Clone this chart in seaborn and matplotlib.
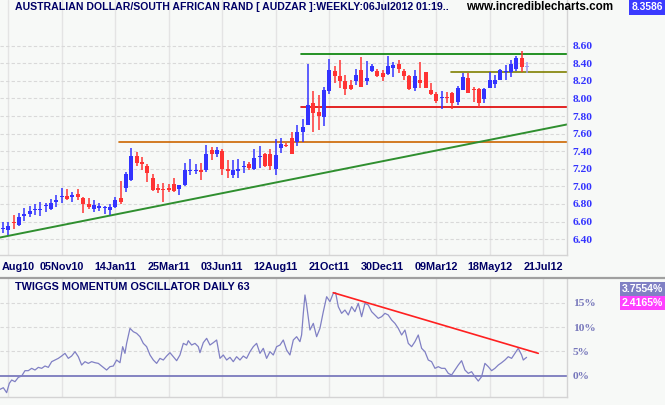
import matplotlib
matplotlib.use('Agg')
import matplotlib.pyplot as plt
from matplotlib.lines import Line2D
from matplotlib.transforms import ScaledTranslation
import seaborn as sns
import pandas as pd
import numpy as np

# weekly candles, week 0 = 27Aug10 (last one is the live week)
weeks = list(range(-1, 98))
opens = [6.52, 6.50, 6.595, 6.56, 6.665, 6.69, 6.735, 6.735, 6.775, 6.74,
         6.82, 6.875, 6.89, 6.885, 6.91, 6.865, 6.80, 6.745, 6.76, 6.76,
         6.73, 6.77, 6.87, 6.985, 7.07, 7.345, 7.28, 7.23, 7.095, 6.975,
         6.965, 6.975, 7.025, 6.97, 7.015, 7.18, 7.18, 7.19, 7.185, 7.41,
         7.37, 7.40, 7.20, 7.13, 7.17, 7.225, 7.255, 7.197, 7.33, 7.37,
         7.37, 7.197, 7.44, 7.465, 7.555, 7.50, 7.62, 7.70, 7.95, 7.85,
         7.785, 8.09, 8.31, 8.25, 8.20, 8.155, 8.20, 8.32, 8.20, 8.315,
         8.31, 8.29, 8.28, 8.35, 8.39, 8.31, 8.26, 8.115, 8.21, 8.30,
         8.10, 8.05, 8.005, 8.02, 8.065, 7.96, 8.10, 8.23, 8.10, 8.105,
         7.99, 8.115, 8.17, 8.215, 8.305, 8.30, 8.33, 8.455, 8.36]
highs = [6.60, 6.60, 6.67, 6.70, 6.75, 6.78, 6.80, 6.82, 6.815, 6.86,
         6.90, 6.98, 6.965, 6.935, 6.97, 6.875, 6.865, 6.845, 6.81, 6.78,
         6.80, 6.88, 7.06, 7.165, 7.44, 7.395, 7.33, 7.25, 7.135, 7.03,
         7.04, 7.03, 7.09, 7.015, 7.265, 7.31, 7.255, 7.26, 7.47, 7.45,
         7.45, 7.43, 7.30, 7.30, 7.31, 7.29, 7.275, 7.43, 7.46, 7.375,
         7.42, 7.54, 7.545, 7.49, 7.615, 7.70, 7.765, 8.39, 8.085, 8.04,
         8.135, 8.45, 8.37, 8.44, 8.27, 8.215, 8.34, 8.475, 8.425, 8.39,
         8.34, 8.32, 8.485, 8.415, 8.44, 8.33, 8.265, 8.32, 8.42, 8.30,
         8.18, 8.075, 8.085, 8.07, 8.075, 8.14, 8.29, 8.29, 8.135, 8.12,
         8.12, 8.30, 8.265, 8.33, 8.38, 8.44, 8.48, 8.54, 8.42]
lows = [6.465, 6.45, 6.52, 6.55, 6.61, 6.655, 6.67, 6.665, 6.71, 6.73,
        6.77, 6.815, 6.84, 6.82, 6.84, 6.70, 6.74, 6.71, 6.72, 6.69,
        6.67, 6.75, 6.795, 6.94, 7.065, 7.23, 7.19, 7.05, 6.95, 6.92,
        6.82, 6.94, 6.94, 6.90, 7.00, 7.13, 7.14, 7.07, 7.165, 7.30,
        7.33, 7.13, 7.09, 7.10, 7.10, 7.15, 7.19, 7.185, 7.21, 7.22,
        7.185, 7.13, 7.375, 7.445, 7.365, 7.46, 7.50, 7.70, 7.615, 7.64,
        7.685, 8.045, 8.18, 8.115, 8.04, 8.095, 8.15, 8.135, 8.15, 8.30,
        8.24, 8.20, 8.265, 8.245, 8.295, 8.215, 8.10, 8.09, 8.115, 8.115,
        8.04, 7.945, 7.885, 7.945, 7.885, 7.925, 8.095, 8.06, 7.965, 7.905,
        7.945, 8.115, 8.12, 8.21, 8.21, 8.245, 8.31, 8.305, 8.285]
closes = [6.525, 6.55, 6.58, 6.65, 6.69, 6.72, 6.745, 6.745, 6.785, 6.81,
          6.845, 6.885, 6.86, 6.895, 6.88, 6.80, 6.77, 6.79, 6.77, 6.765,
          6.77, 6.845, 6.82, 7.135, 7.34, 7.27, 7.25, 7.15, 6.96, 6.965,
          6.96, 6.965, 6.95, 7.015, 7.185, 7.19, 7.19, 7.165, 7.37, 7.37,
          7.41, 7.197, 7.18, 7.185, 7.20, 7.235, 7.205, 7.325, 7.345, 7.235,
          7.23, 7.355, 7.48, 7.455, 7.365, 7.615, 7.68, 7.925, 7.83, 7.80,
          8.095, 8.32, 8.26, 8.20, 8.11, 8.11, 8.265, 8.135, 8.23, 8.37,
          8.26, 8.245, 8.37, 8.38, 8.335, 8.26, 8.11, 8.255, 8.18, 8.12,
          8.05, 7.97, 8.015, 8.01, 7.945, 8.115, 8.24, 8.065, 8.095, 7.945,
          8.105, 8.21, 8.21, 8.32, 8.315, 8.39, 8.455, 8.36, 8.3586]

date_ticks = [0, 10, 20, 30, 40, 50, 60, 70, 80, 90, 100]
date_labels = ['Aug10', '05Nov10', '14Jan11', '25Mar11', '03Jun11', '12Aug11',
               '21Oct11', '30Dec11', '09Mar12', '18May12', '21Jul12']
price_ticks = [6.40, 6.60, 6.80, 7.00, 7.20, 7.40, 7.60, 7.80, 8.00, 8.20, 8.40, 8.60]
osc_ticks = [0, 5, 10, 15]

# drawn support / resistance levels: (start week, price)
level_top = (54.7, 8.50)
level_mid = (82.7, 8.30)
level_low = (54.7, 7.90)
level_old = (20.7, 7.50)
trend_start = (-1.55, 6.418)
trend_end = (104.5, 7.705)

# Twiggs momentum oscillator (daily)
osc_week = [-1.55, -0.93, -0.31, 0.19, 0.63, 1.25, 1.88, 2.50, 3.12, 3.74,
            4.37, 4.99, 5.61, 6.24, 6.86, 7.48, 8.11, 8.73, 9.35, 9.97,
            10.60, 11.22, 11.84, 12.47, 13.09, 13.71, 14.34, 14.96, 15.58, 16.20,
            16.83, 17.45, 18.38, 19.01, 19.63, 20.25, 20.88, 21.38, 21.81, 22.12,
            22.75, 23.37, 23.99, 24.62, 25.24, 25.86, 26.49, 27.11, 27.73, 28.35,
            28.98, 29.60, 30.22, 30.85, 31.47, 32.09, 32.72, 33.34, 33.65, 34.27,
            34.90, 35.52, 35.83, 36.45, 37.08, 37.70, 38.32, 38.95, 39.57, 40.19,
            40.82, 41.44, 42.06, 42.68, 43.31, 43.93, 44.55, 45.18, 45.80, 46.42,
            47.05, 47.67, 48.29, 48.92, 49.54, 50.16, 50.79, 51.41, 52.03, 52.65,
            53.28, 53.90, 54.52, 54.83, 55.15, 55.46, 55.77, 56.39, 57.02, 57.64,
            58.26, 58.89, 59.51, 60.13, 60.75, 61.19, 61.69, 62.31, 62.93, 63.56,
            64.18, 64.80, 65.43, 66.05, 66.67, 67.30, 67.92, 68.54, 69.16, 69.79,
            70.41, 71.03, 71.66, 72.28, 72.90, 73.53, 74.15, 74.77, 75.40, 76.02,
            76.64, 77.27, 77.89, 78.51, 79.13, 79.76, 80.38, 81.00, 81.63, 82.25,
            82.87, 83.50, 84.12, 84.74, 85.36, 85.99, 86.61, 87.23, 87.86, 88.48,
            89.10, 89.73, 90.35, 90.97, 91.60, 92.22, 92.84, 93.46, 94.09, 94.71,
            95.33, 95.96, 96.27, 96.89]
osc_pct = [-2.81, -2.47, -3.49, -1.58, -0.89, -1.23, -0.34, -0.07, 1.03, 1.03,
           1.51, 1.16, 1.71, 1.51, 1.99, 1.71, 2.88, 3.22, 3.56, 4.04,
           4.59, 3.56, 4.04, 4.93, 3.90, 2.19, 2.88, 2.53, 2.88, 2.67,
           2.53, 1.99, 1.16, 1.85, 1.99, 3.22, 2.67, 5.96, 4.59, 6.64,
           9.73, 9.04, 8.70, 8.01, 6.64, 5.96, 4.25, 3.22, 2.53, 3.56,
           3.22, 4.04, 4.73, 3.90, 3.08, 4.25, 6.64, 6.30, 7.19, 6.30,
           6.64, 5.96, 4.73, 6.78, 7.67, 6.30, 6.78, 7.33, 3.56, 4.25,
           3.22, 3.77, 2.88, 3.90, 3.22, 4.04, 3.56, 4.93, 5.96, 6.64,
           4.59, 5.62, 3.56, 4.93, 4.25, 5.96, 6.30, 7.33, 5.27, 4.25,
           7.33, 8.01, 6.99, 8.36, 12.81, 16.58, 14.52, 9.38, 10.75, 8.01,
           9.73, 13.15, 16.23, 15.21, 16.92, 17.05, 14.18, 12.81, 13.49, 12.47,
           14.18, 13.15, 14.86, 12.12, 14.86, 14.52, 13.15, 12.47, 11.78, 12.12,
           12.81, 12.47, 11.44, 10.75, 9.73, 8.36, 9.38, 6.64, 5.96, 6.99,
           8.36, 5.62, 4.93, 3.22, 2.88, 1.51, 1.85, 1.51, 1.51, 0.48,
           0.14, 1.16, 2.19, 3.08, 1.16, 0.48, 0.82, -0.21, -1.10, -0.21,
           2.53, 1.85, 1.03, 1.51, 2.19, 2.67, 3.22, 3.90, 3.56, 4.59,
           5.62, 4.25, 3.22, 3.77]
osc_trend_start = (60.75, 17.05)
osc_trend_end = (99.07, 4.59)

bg = '#f7f9f7'
navy = '#000066'
up_col = '#3333ff'
down_col = '#ff3333'
live_col = '#a0a0f0'
osc_col = '#8080c4'

sns.set_style('white', rc={'axes.facecolor': bg, 'figure.facecolor': bg})
plt.rcParams['font.family'] = ['Liberation Sans', 'DejaVu Sans']

fig = plt.figure(figsize=(6.65, 4.05), dpi=100, facecolor=bg)
ax = fig.add_axes([0, 150 / 405, 567.3 / 665, 255 / 405])
ax2 = fig.add_axes([0, 8 / 405, 567.3 / 665, 119 / 405])

x_min, x_max = -1.55, 104.5

# ---- price panel ----
df = pd.DataFrame({'week': weeks, 'open': opens, 'high': highs,
                   'low': lows, 'close': closes})
colors = np.where(df['close'] >= df['open'], up_col, down_col).astype(object)
colors[-1] = live_col
body_h = (df['close'] - df['open']).abs().clip(lower=0.012)
body_lo = (df['open'] + df['close']) / 2 - body_h / 2

for k in date_ticks:
    ax.axvline(k, color='#e4e4e4', lw=1, zorder=0)
for p in price_ticks:
    ax.axhline(p, color='#d9d9d9', lw=0.8, ls=(0, (3, 2)), zorder=0)

ax.vlines(df['week'], df['low'], df['high'], colors=list(colors), lw=1.1, zorder=3)
ax.bar(df['week'], body_h, bottom=body_lo, width=0.75, color=list(colors),
       linewidth=0, zorder=4)

ax.plot([level_top[0], x_max], [level_top[1]] * 2, color='#008000', lw=1.2, zorder=2)
ax.plot([level_mid[0], x_max], [level_mid[1]] * 2, color='#808000', lw=1.2, zorder=2)
ax.plot([level_low[0], x_max], [level_low[1]] * 2, color='#e00000', lw=1.2, zorder=2)
ax.plot([level_old[0], x_max], [level_old[1]] * 2, color='#cc6600', lw=1.2, zorder=2)
ax.plot([trend_start[0], trend_end[0]], [trend_start[1], trend_end[1]],
        color='#2f8f2f', lw=1.4, zorder=2)

ax.set_xlim(x_min, x_max)
ax.set_ylim(6.219, 9.12)
ax.set_xticks(date_ticks)
ax.set_xticklabels(date_labels)
ax.set_yticks(price_ticks)
ax.set_yticklabels([f'{p:.2f}' for p in price_ticks])
ax.yaxis.tick_right()
ax.tick_params(axis='x', length=0, pad=5, labelsize=7.8, labelcolor=navy)
ax.tick_params(axis='y', length=0, pad=4, labelsize=8.2, labelcolor=up_col)
for t in ax.get_xticklabels():
    t.set_fontweight('bold')
# first date label sits on the left edge, as in the source chart
first = ax.get_xticklabels()[0]
first.set_ha('left')
first.set_transform(first.get_transform() + ScaledTranslation(-7 / 100, 0, fig.dpi_scale_trans))
for t in ax.get_yticklabels():
    t.set_fontweight('bold')
    t.set_family(['Liberation Serif', 'DejaVu Serif'])
for side in ['left', 'top']:
    ax.spines[side].set_visible(False)
for side in ['right', 'bottom']:
    ax.spines[side].set_color('#d4d4d4')
    ax.spines[side].set_linewidth(1)

# ---- oscillator panel ----
for k in date_ticks:
    ax2.axvline(k, color='#e4e4e4', lw=1, zorder=0)
for p in osc_ticks[1:]:
    ax2.axhline(p, color='#d9d9d9', lw=0.8, ls=(0, (3, 2)), zorder=0)
ax2.axhline(0, color='#7070b8', lw=1.2, zorder=1)

sns.lineplot(x=osc_week, y=osc_pct, ax=ax2, color=osc_col, lw=0.9,
             estimator=None, sort=False, zorder=3)
ax2.plot([osc_trend_start[0], osc_trend_end[0]], [osc_trend_start[1], osc_trend_end[1]],
         color='#ff2020', lw=1.2, zorder=4)

ax2.set_xlim(x_min, x_max)
ax2.set_ylim(-4.38, 20.07)
ax2.set_xticks(date_ticks)
ax2.set_xticklabels([])
ax2.set_yticks(osc_ticks)
ax2.set_yticklabels([f'{p}%' for p in osc_ticks])
ax2.yaxis.tick_right()
ax2.tick_params(axis='x', length=0)
ax2.tick_params(axis='y', length=0, pad=4, labelsize=8.2, labelcolor='#7777bb')
for t in ax2.get_yticklabels():
    t.set_fontweight('bold')
    t.set_family(['Liberation Serif', 'DejaVu Serif'])
for side in ['left', 'top']:
    ax2.spines[side].set_visible(False)
for side in ['right', 'bottom']:
    ax2.spines[side].set_color('#d4d4d4')
    ax2.spines[side].set_linewidth(1)
ax2.set_xlabel('')
ax2.set_ylabel('')

# ---- header texts ----
fig.text(15 / 665, 1 - 7.5 / 405,
         'AUSTRALIAN DOLLAR/SOUTH AFRICAN RAND [ AUDZAR ]:WEEKLY:06Jul2012 01:19..',
         fontsize=7.6, fontweight='bold', color=navy, va='center', ha='left')
fig.text(466 / 665, 1 - 7.5 / 405, 'www.incrediblecharts.com',
         fontsize=8.4, fontweight='bold', color='black', va='center', ha='left')
fig.text(1 - 2 / 665, 1 - 7.5 / 405, '8.3586', fontsize=7.4, fontweight='bold',
         color='white', va='center', ha='right',
         bbox=dict(boxstyle='square,pad=0.28', facecolor='#3b3bff', edgecolor='none'))

fig.text(15 / 665, 1 - 286.5 / 405, 'TWIGGS MOMENTUM OSCILLATOR DAILY 63',
         fontsize=7.8, fontweight='bold', color=navy, va='center', ha='left')
fig.text(1 - 2 / 665, 1 - 289 / 405, '3.7554%', fontsize=7.6, fontweight='bold',
         color='white', va='center', ha='right',
         bbox=dict(boxstyle='square,pad=0.2', facecolor='#8080c4', edgecolor='none'))
fig.text(1 - 2 / 665, 1 - 303 / 405, '2.4165%', fontsize=7.6, fontweight='bold',
         color='white', va='center', ha='right',
         bbox=dict(boxstyle='square,pad=0.2', facecolor='#ff40ff', edgecolor='none'))

fig.add_artist(Line2D([0, 1], [1 - 277.7 / 405] * 2, transform=fig.transFigure,
                      color='#a0a0a0', lw=1.6))

fig.savefig('out.png', dpi=100, facecolor=bg)
